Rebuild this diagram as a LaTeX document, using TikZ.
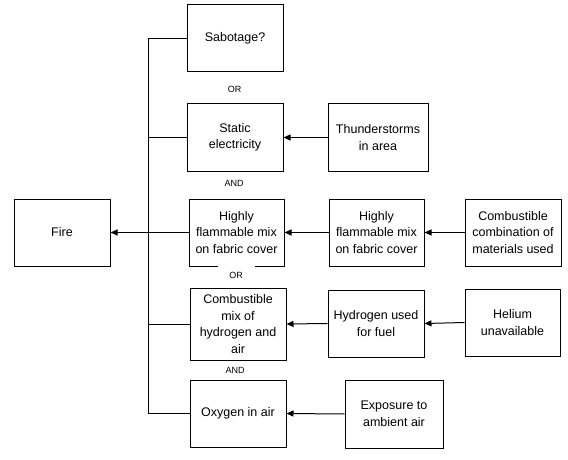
\documentclass[tikz,border=0pt]{standalone}
\usepackage{fontspec}
\setmainfont{Liberation Sans}
\usetikzlibrary{arrows.meta}
\begin{document}
\begin{tikzpicture}[x=1pt,y=-1pt,>={Triangle[length=7pt,width=6pt]},line width=1pt,line join=miter,
	box/.style={draw,align=center,inner sep=0pt,minimum width=96pt,minimum height=67pt,font=\fontsize{12.5}{16.5}\selectfont},
	gate/.style={fill=white,inner sep=0pt,minimum width=37pt,minimum height=19pt,font=\fontsize{9}{10}\selectfont}]
	\useasboundingbox (0,0) rectangle (568,460);
	% first column
	\node[box] (fire) at (62,232.5) {Fire};
	% second column
	\node[box] (sabotage) at (235,38.5) {Sabotage?};
	\node[box] (static) at (235,137.5) {Static\\electricity};
	\node[box,minimum width=95pt] (flamA) at (236.5,232.5) {Highly\\flammable mix\\on fabric cover};
	\node[box,minimum height=72pt] (mix) at (238,324) {Combustible\\mix of\\hydrogen and\\air};
	\node[box] (oxygen) at (238,413.5) {Oxygen in air};
	% third column
	\node[box,minimum width=100pt] (thunder) at (378,137.5) {Thunderstorms\\in area};
	\node[box,minimum width=95pt] (flamB) at (376.5,232.5) {Highly\\flammable mix\\on fabric cover};
	\node[box] (hyd) at (376,323.5) {Hydrogen used\\for fuel};
	\node[box,minimum width=98pt,minimum height=68pt] (exposure) at (394,414) {Exposure to\\ambient air};
	% fourth column
	\node[box] (comb) at (513,232.5) {Combustible\\combination of\\materials used};
	\node[box,minimum width=95pt] (helium) at (512.5,322.5) {Helium\\unavailable};
	% trunk
	\coordinate (trunk) at (148.5,0);
	\draw (sabotage.west) -- (sabotage.west -| trunk) -- (oxygen.west -| trunk) -- (oxygen.west);
	\draw (static.west) -- (static.west -| trunk);
	\draw (mix.west) -- (mix.west -| trunk);
	\draw[->] (flamA.west) -- (fire.east);
	% causes
	\draw[->] (thunder.west) -- (static.east);
	\draw[->] (flamB.west) -- (flamA.east);
	\draw[->] (comb.west) -- (flamB.east);
	\draw[->] (hyd.west) -- (mix.east);
	\draw[->] (helium.west) -- (hyd.east);
	\draw[->] (exposure.west) -- (oxygen.east);
	% gates
	\node[gate] (or1) at (234.5,89) {OR};
	\node[gate] (and1) at (234,183) {AND};
	\node[gate] (or2) at (236,275) {OR};
	\node[gate] (and2) at (235,370) {AND};
\end{tikzpicture}
\end{document}
